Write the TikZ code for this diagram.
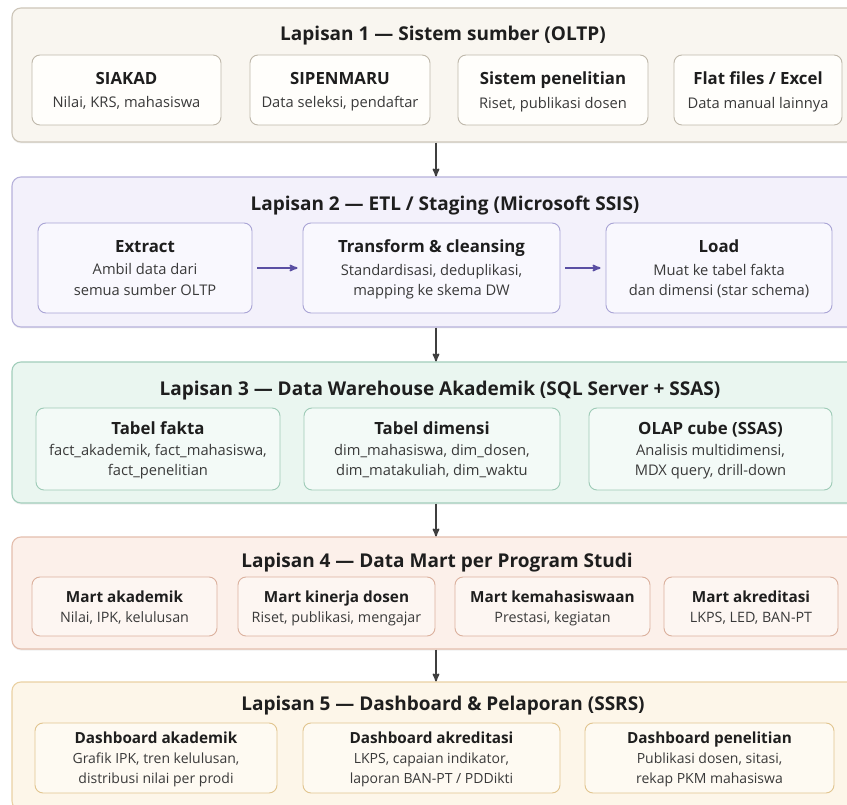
\documentclass[tikz,border=0pt]{standalone}
\usepackage{fontspec}
\setmainfont{Open Sans}
\usetikzlibrary{arrows,positioning,shadows}

\definecolor{ink}{HTML}{1E1E1E}
\definecolor{subink}{HTML}{3A3A3A}
\definecolor{flowgrey}{HTML}{3F3F3F}
\definecolor{etlpurple}{HTML}{5A4FA3}
\definecolor{srcfill}{HTML}{F9F6F0}  \definecolor{srcline}{HTML}{CDC6B9}
\definecolor{srcbox}{HTML}{FFFEFB}   \definecolor{srcboxline}{HTML}{BFB8AB}
\definecolor{etlfill}{HTML}{F3F1FB}  \definecolor{etlline}{HTML}{B7B2DB}
\definecolor{etlbox}{HTML}{F9F8FE}   \definecolor{etlboxline}{HTML}{A9A4D5}
\definecolor{dwfill}{HTML}{EAF6F0}   \definecolor{dwline}{HTML}{A2CEBB}
\definecolor{dwbox}{HTML}{F3FAF7}    \definecolor{dwboxline}{HTML}{9ECBB7}
\definecolor{martfill}{HTML}{FCF0EA} \definecolor{martline}{HTML}{E4BEAD}
\definecolor{martbox}{HTML}{FDF6F2}  \definecolor{martboxline}{HTML}{DBB19E}
\definecolor{dashfill}{HTML}{FDF6E9} \definecolor{dashline}{HTML}{EAD1A3}
\definecolor{dashbox}{HTML}{FEFAF2}  \definecolor{dashboxline}{HTML}{E1C58F}

\newcommand{\boxhead}[1]{{\fontsize{16.8}{20}\selectfont\bfseries\color{ink}#1}}
\newcommand{\boxheadsm}[1]{{\fontsize{15.3}{20}\selectfont\bfseries\color{ink}#1}}

\begin{document}
\begin{tikzpicture}[x=1pt,y=-1pt,>=stealth',semithick]
  \tikzstyle{layer}=[rectangle,rounded corners=9pt,line width=1.1pt,minimum width=848pt,inner sep=0pt,
                     drop shadow={opacity=0.12,shadow xshift=0pt,shadow yshift=-1.5pt}]
  \tikzstyle{heading}=[font=\fontsize{19}{22}\selectfont\bfseries,text=ink]
  \tikzstyle{unit}=[rectangle,rounded corners=8pt,line width=0.9pt,align=center,inner sep=0pt,text depth=0pt,
                    text=subink,font=\fontsize{14.7}{20.5}\selectfont]
  \tikzstyle{flow}=[->,line width=1.7pt,draw=flowgrey]
  \tikzstyle{etlflow}=[->,line width=1.7pt,draw=etlpurple,shorten >=5pt,shorten <=5pt]

  \clip (0,0) rectangle (847,805);
  \fill[white] (0,0) rectangle (847,805);

  % Lapisan 1
  \node[layer,fill=srcfill,draw=srcline,minimum height=134pt] (l1) at (436,75) {};
  \node[heading] (h1) at (443,36) {Lapisan 1 — Sistem sumber (OLTP)};
  \tikzstyle{src}=[unit,fill=srcbox,draw=srcboxline,minimum height=70pt]
  \node[src,minimum width=189pt] (siakad) at (126.5,90) {\boxhead{SIAKAD}\\[3pt] Nilai, KRS, mahasiswa};
  \node[src,minimum width=180pt] (sipenmaru) at (340,90) {\boxhead{SIPENMARU}\\[3pt] Data seleksi, pendaftar};
  \node[src,minimum width=190pt] (penelitian) at (553,90) {\boxhead{Sistem penelitian}\\[3pt] Riset, publikasi dosen};
  \node[src,minimum width=168pt] (flatfile) at (758,90) {\boxhead{Flat files / Excel}\\[3pt] Data manual lainnya};

  % Lapisan 2
  \node[layer,fill=etlfill,draw=etlline,minimum height=150pt] (l2) at (436,252) {};
  \node[heading] (h2) at (445,206) {Lapisan 2 — ETL / Staging (Microsoft SSIS)};
  \tikzstyle{etl}=[unit,fill=etlbox,draw=etlboxline,minimum height=90pt]
  \node[etl,minimum width=214pt] (extract) at (145,268) {\boxhead{Extract}\\[2pt] Ambil data dari\\ semua sumber OLTP};
  \node[etl,minimum width=257pt] (transform) at (431.5,268) {\boxhead{Transform \& cleansing}\\[2pt] Standardisasi, deduplikasi,\\ mapping ke skema DW};
  \node[etl,minimum width=226pt] (load) at (719,268) {\boxhead{Load}\\[2pt] Muat ke tabel fakta\\ dan dimensi (star schema)};
  \draw[etlflow] (extract) -- (transform);
  \draw[etlflow] (transform) -- (load);

  % Lapisan 3
  \node[layer,fill=dwfill,draw=dwline,minimum height=141pt] (l3) at (436,432.5) {};
  \node[heading] (h3) at (440,391) {Lapisan 3 — Data Warehouse Akademik (SQL Server + SSAS)};
  \tikzstyle{dw}=[unit,fill=dwbox,draw=dwboxline,minimum height=82pt]
  \node[dw,minimum width=244pt] (fakta) at (158,449) {\boxhead{Tabel fakta}\\ fact\_akademik, fact\_mahasiswa,\\ fact\_penelitian};
  \node[dw,minimum width=256pt] (dimensi) at (432,449) {\boxhead{Tabel dimensi}\\ dim\_mahasiswa, dim\_dosen,\\ dim\_matakuliah, dim\_waktu};
  \node[dw,minimum width=243pt] (olap) at (710.5,449) {\boxhead{OLAP cube (SSAS)}\\ Analisis multidimensi,\\ MDX query, drill-down};

  % Lapisan 4
  \node[layer,fill=martfill,draw=martline,minimum height=112pt] (l4) at (436,593) {};
  \node[heading] (h4) at (437,563) {Lapisan 4 — Data Mart per Program Studi};
  \tikzstyle{mart}=[unit,fill=martbox,draw=martboxline,minimum height=59pt,font=\fontsize{14.3}{20}\selectfont]
  \node[mart,minimum width=185pt] (martakd) at (124.5,606.5) {\boxheadsm{Mart akademik}\\ Nilai, IPK, kelulusan};
  \node[mart,minimum width=197pt] (martdosen) at (336.5,606.5) {\boxheadsm{Mart kinerja dosen}\\ Riset, publikasi, mengajar};
  \node[mart,minimum width=195pt] (martmhs) at (552.5,606.5) {\boxheadsm{Mart kemahasiswaan}\\ Prestasi, kegiatan};
  \node[mart,minimum width=174pt] (martakr) at (751,606.5) {\boxheadsm{Mart akreditasi}\\ LKPS, LED, BAN-PT};

  % Lapisan 5
  \node[layer,fill=dashfill,draw=dashline,minimum height=128pt] (l5) at (436,746) {};
  \node[heading] (h5) at (443,706) {Lapisan 5 — Dashboard \& Pelaporan (SSRS)};
  \tikzstyle{dashunit}=[unit,fill=dashbox,draw=dashboxline,minimum height=70pt,font=\fontsize{14}{20}\selectfont]
  \node[dashunit,minimum width=242pt] (dashakd) at (156,758) {\boxheadsm{Dashboard akademik}\\ Grafik IPK, tren kelulusan,\\ distribusi nilai per prodi};
  \node[dashunit,minimum width=257pt] (dashakr) at (431.5,758) {\boxheadsm{Dashboard akreditasi}\\ LKPS, capaian indikator,\\ laporan BAN-PT / PDDikti};
  \node[dashunit,minimum width=249pt] (dashpen) at (709.5,758) {\boxheadsm{Dashboard penelitian}\\ Publikasi dosen, sitasi,\\ rekap PKM mahasiswa};

  % alur antar lapisan
  \draw[flow] (l1.south) -- (l2.north);
  \draw[flow] (l2.south) -- (l3.north);
  \draw[flow] (l3.south) -- (l4.north);
  \draw[flow] (l4.south) -- (l5.north);
\end{tikzpicture}
\end{document}
